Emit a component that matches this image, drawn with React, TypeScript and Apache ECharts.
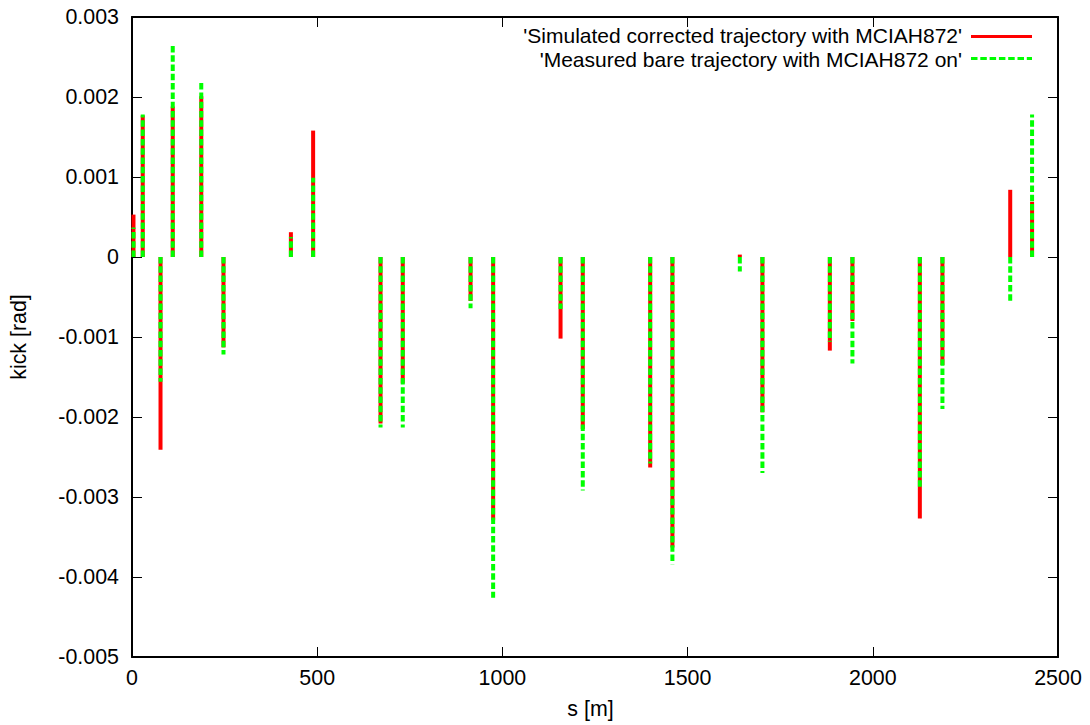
import React, { useEffect, useRef } from "react";
import * as echarts from "echarts";

const positions = [4, 29, 77, 110, 187, 247, 429, 489, 671, 731, 914, 975, 1157, 1217, 1399, 1459, 1641, 1702, 1884, 1945, 2127, 2188, 2371, 2430];
const simulated = [0.00053, 0.00177, -0.00241, 0.00188, 0.00201, -0.00113, 0.00031, 0.00158, -0.00208, -0.00158, -0.00055, -0.00329, -0.00102, -0.00215, -0.00263, -0.00363, 0.00003, -0.00194, -0.00117, -0.0008, -0.00327, -0.00135, 0.00084, 0.00069];
const measured = [0.00037, 0.00178, -0.00156, 0.00265, 0.0022, -0.00122, 0.00025, 0.00099, -0.00213, -0.00213, -0.00064, -0.00426, -0.00065, -0.00292, -0.00258, -0.00384, -0.00018, -0.0027, -0.00106, -0.00133, -0.0029, -0.0019, -0.00058, 0.00178];

const seriesNames = [
  "'Simulated corrected trajectory with MCIAH872'",
  "'Measured bare trajectory with MCIAH872 on'",
];
const xTitle = "s [m]";
const yTitle = "kick [rad]";

const FONT = "'Liberation Sans', Arial, Helvetica, sans-serif";
const FS = 21.4;
const LFS = 21;

function impulse(color: string, dash: number[] | null) {
  return (params: any, api: any) => {
    const x = api.value(0);
    const y = api.value(1);
    const p0 = api.coord([x, 0]);
    const p1 = api.coord([x, y]);
    return {
      type: "line",
      shape: { x1: p0[0], y1: p0[1], x2: p1[0], y2: p1[1] },
      style: {
        stroke: color,
        lineWidth: 4,
        lineDash: dash || undefined,
        lineCap: "butt",
      },
    };
  };
}

export default function App() {
  const ref = useRef<HTMLDivElement>(null);
  useEffect(() => {
    document.body.style.margin = "0";
    const chart = echarts.init(ref.current!, undefined, { renderer: "svg" });
    const axisCommon = {
      axisLine: { show: true, onZero: false, lineStyle: { color: "#000", width: 2 } },
      axisTick: { show: true, inside: true, length: 10, lineStyle: { color: "#000", width: 1 } },
      splitLine: { show: false },
    };
    const yFmt = (v: number) => {
      const r = Math.round(v * 1000) / 1000;
      return r === 0 ? "0" : String(r);
    };
    const xFmt = (v: number) => String(Math.round(v));
    const row1 = 35.5;
    const row2 = 59.5;
    chart.setOption({
      animation: false,
      grid: { left: 132, top: 17, right: 32, bottom: 68, containLabel: false },
      xAxis: [
        {
          type: "value",
          position: "bottom",
          min: 0,
          max: 2500,
          interval: 500,
          ...axisCommon,
          axisLabel: { show: true, margin: 10, color: "#000", fontSize: FS, fontFamily: FONT, formatter: xFmt },
          name: xTitle,
          nameLocation: "middle",
          nameGap: 41,
          nameTextStyle: { color: "#000", fontSize: FS, fontFamily: FONT, padding: [0, 9, 0, 0] },
        },
        {
          type: "value",
          position: "top",
          min: 0,
          max: 2500,
          interval: 500,
          ...axisCommon,
          axisLabel: { show: false },
        },
      ],
      yAxis: [
        {
          type: "value",
          position: "left",
          min: -0.005,
          max: 0.003,
          interval: 0.001,
          ...axisCommon,
          axisLabel: { show: true, margin: 13, color: "#000", fontSize: FS, fontFamily: FONT, formatter: yFmt },
          name: yTitle,
          nameLocation: "middle",
          nameGap: 103,
          nameTextStyle: { color: "#000", fontSize: FS, fontFamily: FONT },
        },
        {
          type: "value",
          position: "right",
          min: -0.005,
          max: 0.003,
          interval: 0.001,
          ...axisCommon,
          axisLabel: { show: false },
        },
      ],
      series: [
        {
          type: "custom",
          name: seriesNames[0],
          xAxisIndex: 0,
          yAxisIndex: 0,
          renderItem: impulse("#ff0000", null),
          data: positions.map((s, i) => [s, simulated[i]]),
          z: 2,
        },
        {
          type: "custom",
          name: seriesNames[1],
          xAxisIndex: 0,
          yAxisIndex: 0,
          renderItem: impulse("#00ff00", [6.5, 2.8]),
          data: positions.map((s, i) => [s, measured[i]]),
          z: 3,
        },
      ],
      graphic: [
        {
          type: "text",
          x: 962,
          y: row1,
          style: { text: seriesNames[0], fill: "#000", fontSize: LFS, lineHeight: 19, fontFamily: FONT, align: "right", verticalAlign: "middle" },
        },
        {
          type: "line",
          shape: { x1: 971, y1: row1 + 1, x2: 1032, y2: row1 + 1 },
          style: { stroke: "#ff0000", lineWidth: 3 },
        },
        {
          type: "text",
          x: 962,
          y: row2,
          style: { text: seriesNames[1], fill: "#000", fontSize: LFS, lineHeight: 19, fontFamily: FONT, align: "right", verticalAlign: "middle" },
        },
        {
          type: "line",
          shape: { x1: 971, y1: row2 - 1, x2: 1032, y2: row2 - 1 },
          style: { stroke: "#00ff00", lineWidth: 3, lineDash: [6.5, 2.8] },
        },
      ],
    });
    return () => chart.dispose();
  }, []);
  return <div ref={ref} style={{ width: 1090, height: 725 }} />;
}
